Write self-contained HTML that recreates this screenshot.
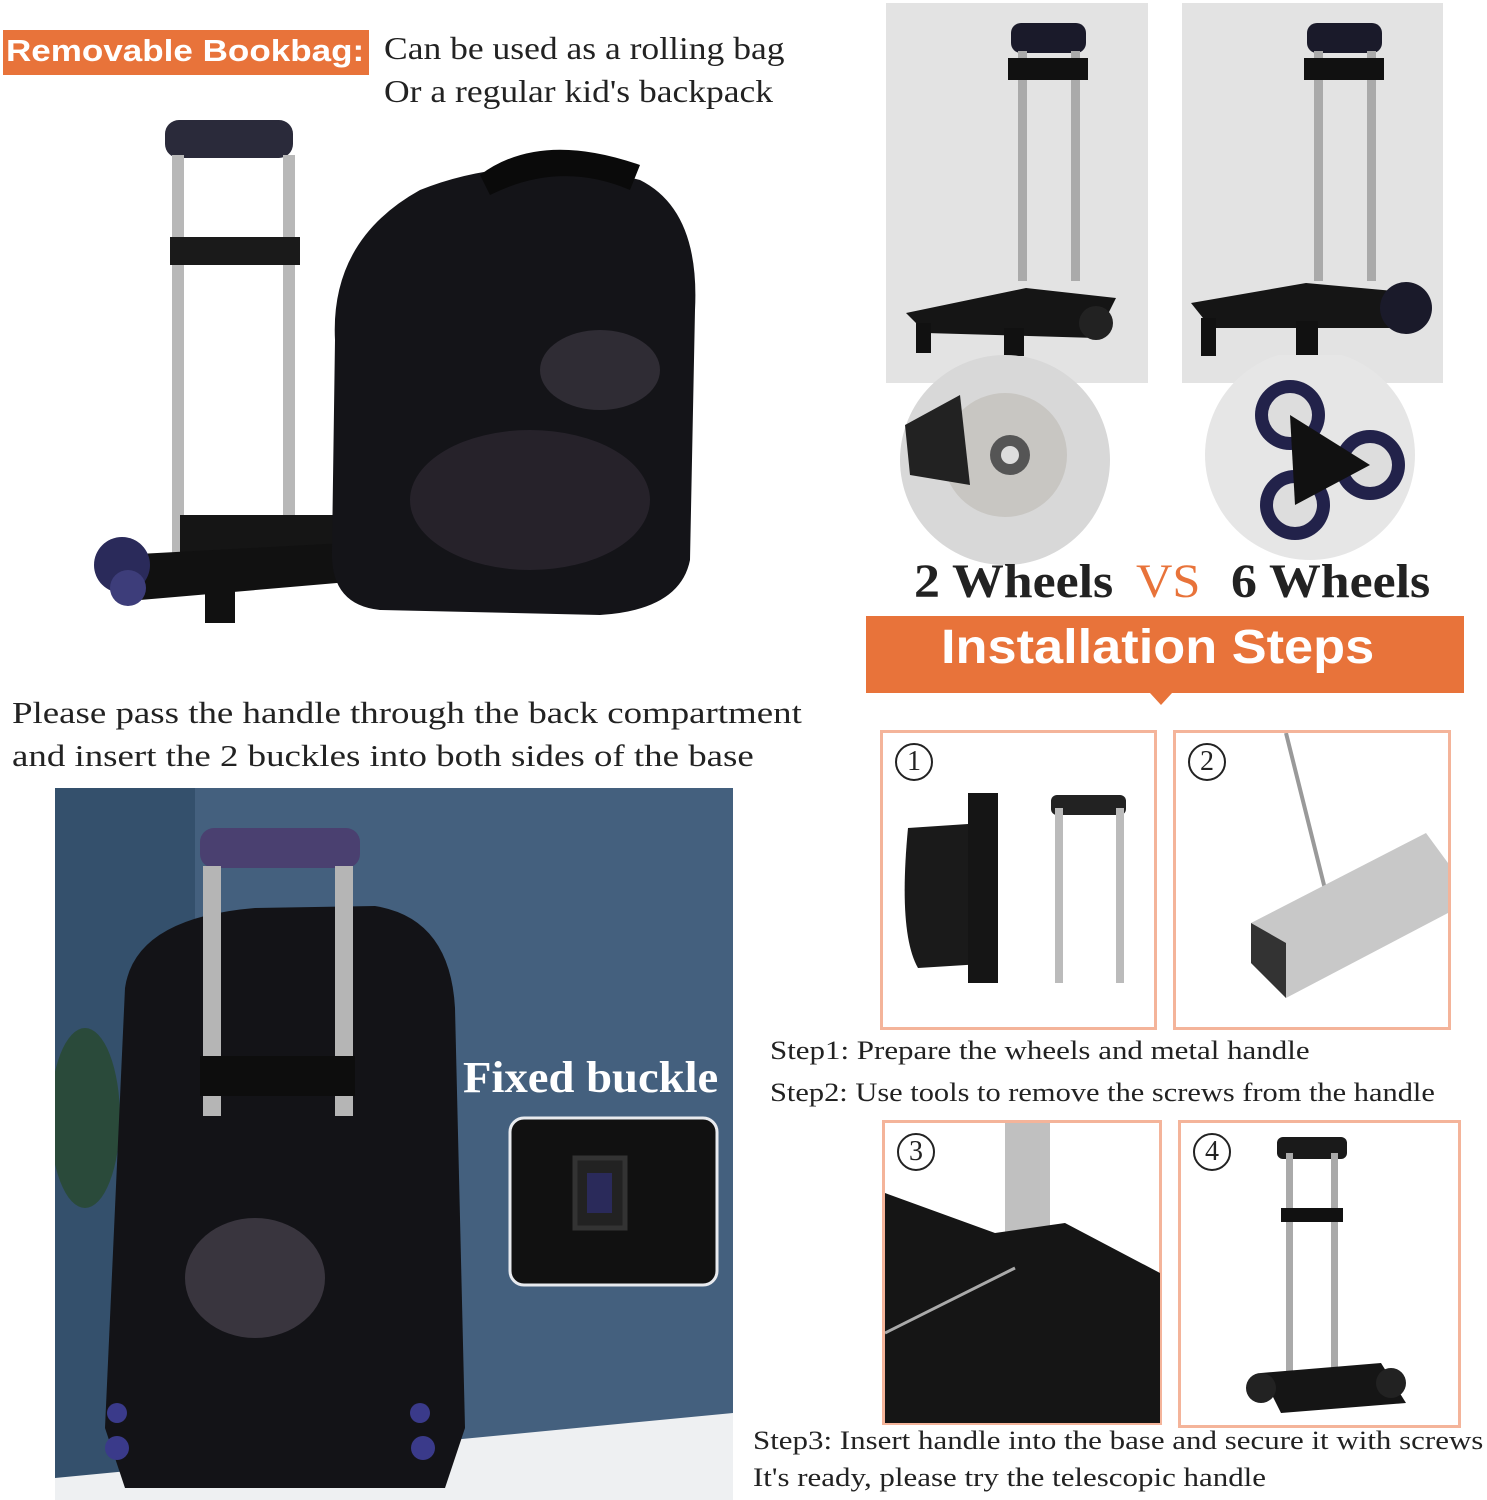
<!DOCTYPE html>
<html><head><meta charset="utf-8"><style>
body{margin:0;width:1487px;height:1500px;background:#fff;position:relative;overflow:hidden;font-family:"Liberation Serif",serif;}
.a{position:absolute;}
.t{position:absolute;white-space:nowrap;color:#222;transform-origin:0 0;}
.box{position:absolute;border:3px solid #f4b49a;box-sizing:border-box;background:#fff;}
.num{position:absolute;left:12px;top:10px;width:34px;height:34px;border:2px solid #222;border-radius:50%;font-size:28px;line-height:34px;text-align:center;color:#222;}
</style></head><body>

<div class="a" style="left:3px;top:30px;width:366px;height:45px;background:#e8733a;"></div>
<div class="t" style="left:6px;top:33px;font-family:'Liberation Sans',sans-serif;font-weight:bold;font-size:31px;color:#fff;transform:scaleX(1.13);">Removable Bookbag:</div>
<div class="t" style="left:384px;top:30px;font-size:32px;transform:scaleX(1.11);">Can be used as a rolling bag</div>
<div class="t" style="left:384px;top:73px;font-size:32px;transform:scaleX(1.11);">Or a regular kid's backpack</div>

<svg class="a" style="left:0;top:110px" width="720" height="530">
<rect x="165" y="10" width="128" height="38" rx="14" fill="#2a2a3a"/>
<rect x="172" y="45" width="12" height="420" fill="#b8b8b8"/>
<rect x="283" y="45" width="12" height="420" fill="#b8b8b8"/>
<rect x="170" y="127" width="130" height="28" fill="#1a1a1a"/>
<rect x="180" y="405" width="180" height="60" fill="#151515"/>
<polygon points="120,445 400,430 430,465 140,490" fill="#111"/>
<rect x="205" y="465" width="30" height="48" fill="#111"/>
<rect x="360" y="465" width="25" height="30" fill="#111"/>
<circle cx="122" cy="455" r="28" fill="#2a2a5a"/><circle cx="128" cy="478" r="18" fill="#3d3d7a"/>
<path d="M335 230 Q330 130 420 80 Q520 40 640 70 Q700 100 695 200 L690 450 Q680 500 600 505 L380 500 Q330 495 332 440 Z" fill="#141418"/>
<path d="M480 65 Q540 20 640 55 L630 80 Q560 50 490 85 Z" fill="#0a0a0a"/>
<ellipse cx="530" cy="390" rx="120" ry="70" fill="#2a2630" opacity=".8"/>
<ellipse cx="600" cy="260" rx="60" ry="40" fill="#3a3640" opacity=".7"/>
</svg>

<div class="a" style="left:886px;top:3px;width:262px;height:380px;background:#e3e3e3;"></div>
<div class="a" style="left:1182px;top:3px;width:261px;height:380px;background:#e3e3e3;"></div>
<svg class="a" style="left:886px;top:3px" width="560" height="380">
<rect x="125" y="20" width="75" height="30" rx="10" fill="#1a1a2a"/>
<rect x="132" y="48" width="9" height="230" fill="#aaa"/><rect x="185" y="48" width="9" height="230" fill="#aaa"/>
<rect x="122" y="55" width="80" height="22" fill="#111"/>
<polygon points="20,310 140,285 230,295 210,335 40,330" fill="#151515"/>
<rect x="30" y="320" width="15" height="30" fill="#111"/><rect x="118" y="325" width="20" height="28" fill="#111"/>
<circle cx="210" cy="320" r="17" fill="#222"/>
<rect x="421" y="20" width="75" height="30" rx="10" fill="#1a1a2a"/>
<rect x="428" y="48" width="9" height="230" fill="#aaa"/><rect x="481" y="48" width="9" height="230" fill="#aaa"/>
<rect x="418" y="55" width="80" height="22" fill="#111"/>
<polygon points="305,300 420,280 530,290 510,325 325,325" fill="#151515"/>
<rect x="315" y="315" width="15" height="38" fill="#111"/><rect x="410" y="318" width="22" height="35" fill="#111"/>
<circle cx="520" cy="305" r="26" fill="#1a1a2a"/>
</svg>
<svg class="a" style="left:890px;top:355px" width="540" height="215">
<circle cx="115" cy="105" r="105" fill="#d8d8d8"/>
<circle cx="115" cy="100" r="62" fill="#c8c6c2"/><circle cx="120" cy="100" r="20" fill="#555"/><circle cx="120" cy="100" r="9" fill="#ddd"/>
<path d="M15 70 L70 40 L80 130 L20 120 Z" fill="#222"/>
<circle cx="420" cy="100" r="105" fill="#e6e6e6"/>
<circle cx="400" cy="60" r="35" fill="#22224a"/><circle cx="480" cy="110" r="35" fill="#22224a"/><circle cx="405" cy="150" r="35" fill="#22224a"/>
<circle cx="400" cy="60" r="22" fill="#ddd"/><circle cx="480" cy="110" r="22" fill="#ddd"/><circle cx="405" cy="150" r="22" fill="#ddd"/>
<path d="M400 60 L480 110 L405 150 Z" fill="#111"/>
</svg>
<div class="t" style="left:914px;top:554px;font-size:48px;font-weight:bold;transform:scaleX(1.08);">2 Wheels</div>
<div class="t" style="left:1136px;top:554px;font-size:48px;color:#e8733a;transform:scaleX(1.05);">VS</div>
<div class="t" style="left:1231px;top:554px;font-size:48px;font-weight:bold;transform:scaleX(1.08);">6 Wheels</div>

<div class="a" style="left:866px;top:616px;width:598px;height:77px;background:#e8733a;"></div>
<div class="a" style="left:1150px;top:693px;width:0;height:0;border-left:11px solid transparent;border-right:11px solid transparent;border-top:12px solid #e8733a;"></div>
<div class="t" style="left:941px;top:620px;font-family:'Liberation Sans',sans-serif;font-weight:bold;font-size:48px;color:#fff;transform:scaleX(1.09);">Installation Steps</div>

<div class="box" style="left:880px;top:730px;width:277px;height:300px;">
<div class="num">1</div>
<svg class="a" style="left:0;top:0" width="270" height="295">
<path d="M25 95 L100 90 L115 230 L35 235 Q15 200 25 95Z" fill="#1a1a1a"/>
<rect x="85" y="60" width="30" height="190" fill="#151515"/>
<rect x="168" y="62" width="75" height="20" rx="6" fill="#222"/>
<rect x="172" y="75" width="8" height="175" fill="#bbb"/><rect x="233" y="75" width="8" height="175" fill="#bbb"/>
</svg></div>
<div class="box" style="left:1173px;top:730px;width:278px;height:300px;">
<div class="num">2</div>
<svg class="a" style="left:0;top:0" width="272" height="295">
<line x1="110" y1="0" x2="150" y2="160" stroke="#999" stroke-width="4"/>
<polygon points="75,190 250,100 272,130 272,180 110,265 75,230" fill="#c8c8c8"/>
<polygon points="75,190 110,210 110,265 75,230" fill="#333"/>
</svg></div>
<div class="t" style="left:770px;top:1036px;font-size:26px;transform:scaleX(1.19);">Step1: Prepare the wheels and metal handle</div>
<div class="t" style="left:770px;top:1078px;font-size:26px;transform:scaleX(1.17);">Step2: Use tools to remove the screws from the handle</div>

<div class="box" style="left:882px;top:1120px;width:280px;height:305px;">
<div class="num">3</div>
<svg class="a" style="left:0;top:0" width="275" height="300">
<rect x="120" y="0" width="45" height="110" fill="#c0c0c0"/>
<polygon points="0,70 110,110 180,100 275,150 275,300 0,300" fill="#151515"/>
<line x1="0" y1="210" x2="130" y2="145" stroke="#aaa" stroke-width="3"/>
</svg></div>
<div class="box" style="left:1178px;top:1120px;width:283px;height:308px;">
<div class="num">4</div>
<svg class="a" style="left:0;top:0" width="278" height="302">
<rect x="96" y="14" width="70" height="22" rx="6" fill="#1a1a1a"/>
<rect x="105" y="30" width="7" height="230" fill="#aaa"/><rect x="150" y="30" width="7" height="230" fill="#aaa"/>
<rect x="100" y="85" width="62" height="14" fill="#111"/>
<polygon points="80,250 200,240 225,280 100,290" fill="#151515"/>
<circle cx="80" cy="265" r="15" fill="#222"/><circle cx="210" cy="260" r="15" fill="#222"/>
</svg></div>
<div class="t" style="left:753px;top:1426px;font-size:26px;transform:scaleX(1.19);">Step3: Insert handle into the base and secure it with screws</div>
<div class="t" style="left:753px;top:1463px;font-size:26px;transform:scaleX(1.19);">It's ready, please try the telescopic handle</div>

<div class="t" style="left:12px;top:695px;font-size:31px;transform:scaleX(1.19);">Please pass the handle through the back compartment</div>
<div class="t" style="left:12px;top:738px;font-size:31px;transform:scaleX(1.19);">and insert the 2 buckles into both sides of the base</div>

<svg class="a" style="left:55px;top:788px" width="678" height="712">
<rect width="678" height="712" fill="#44607e"/>
<rect width="140" height="712" fill="#34506c"/>
<polygon points="0,690 678,625 678,712 0,712" fill="#eef0f2"/>
<ellipse cx="30" cy="330" rx="35" ry="90" fill="#2a4a3a"/>
<path d="M70 200 Q80 130 200 120 L320 118 Q395 130 400 220 L410 640 L390 700 L70 700 L50 640 Z" fill="#131317"/>
<ellipse cx="200" cy="490" rx="70" ry="60" fill="#4a4450" opacity=".7"/>
<rect x="145" y="40" width="160" height="40" rx="14" fill="#4a4070"/>
<rect x="148" y="78" width="18" height="250" fill="#b5b5b5"/><rect x="280" y="78" width="18" height="250" fill="#b5b5b5"/>
<rect x="145" y="268" width="155" height="40" fill="#0d0d0d"/>
<circle cx="62" cy="625" r="10" fill="#3a3a8a"/><circle cx="62" cy="660" r="12" fill="#3a3a8a"/><circle cx="365" cy="625" r="10" fill="#3a3a8a"/><circle cx="368" cy="660" r="12" fill="#3a3a8a"/>
<rect x="455" y="330" width="207" height="167" rx="14" fill="#111" stroke="#e8eaee" stroke-width="3"/>
<rect x="520" y="370" width="50" height="70" fill="#222" stroke="#333" stroke-width="5"/>
<rect x="532" y="385" width="25" height="40" fill="#2a2a5a"/>
</svg>
<div class="t" style="left:463px;top:1052px;font-size:44px;font-weight:bold;color:#fff;transform:scaleX(1.06);">Fixed buckle</div>

</body></html>
